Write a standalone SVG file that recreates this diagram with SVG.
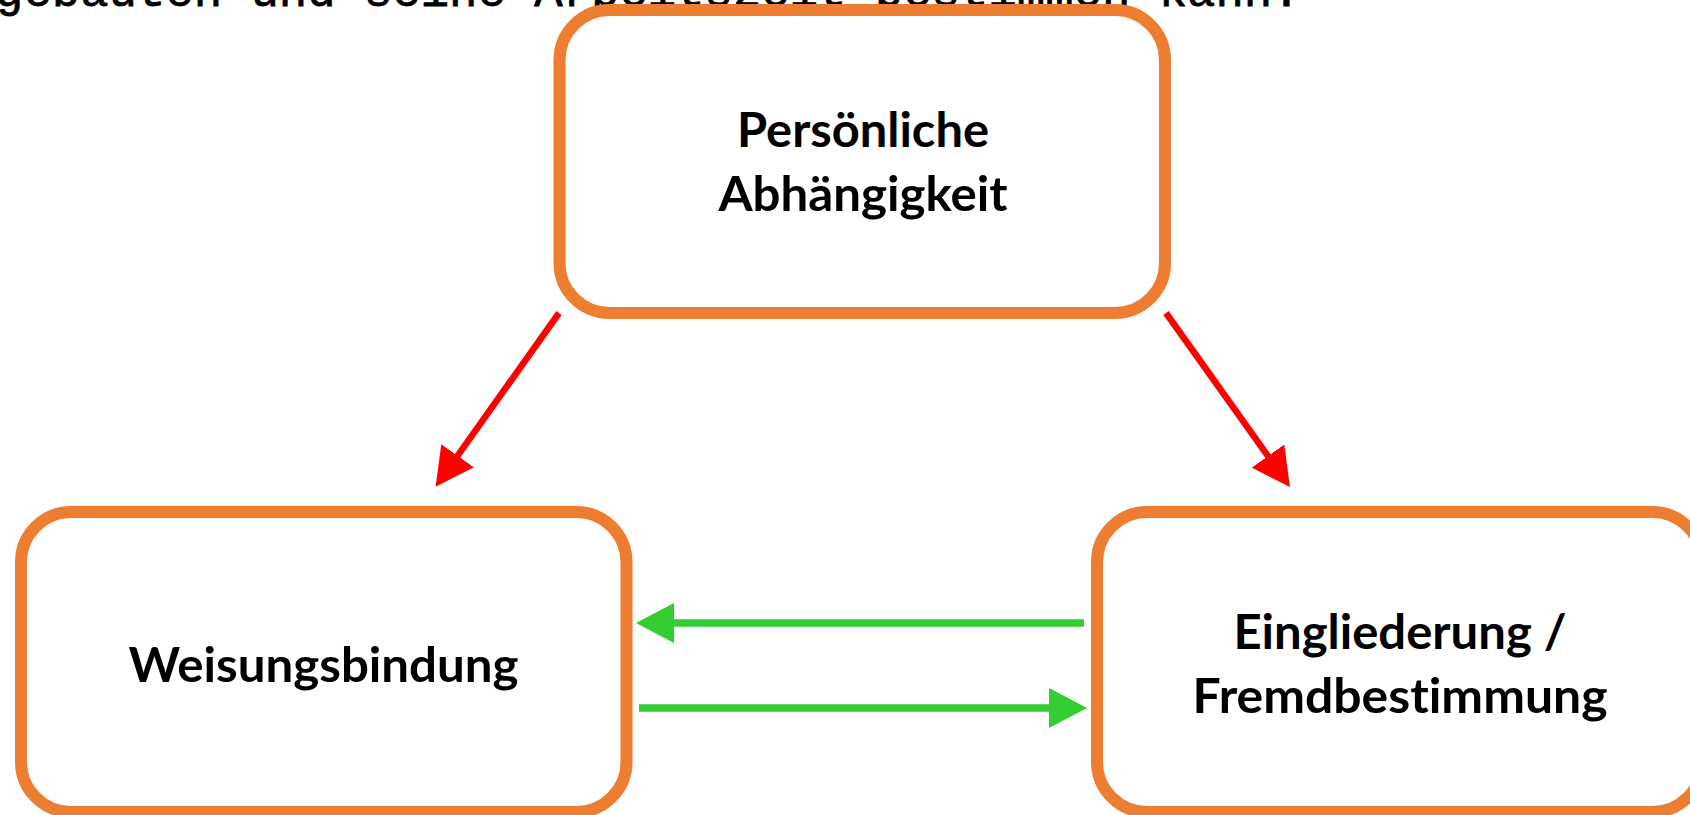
<svg xmlns="http://www.w3.org/2000/svg" width="1690" height="815" viewBox="0 0 1690 815">
<style>
.box{fill:#ffffff;stroke:#ED7D31;stroke-width:12}
.lbl{font-family:Lato,"Open Sans","Liberation Sans",sans-serif;font-weight:bold;font-size:47px;fill:#000;text-anchor:middle;font-variant-ligatures:none}
.red{stroke:#FF0000;stroke-width:6.5;fill:none}
.green{stroke:#33CC33;stroke-width:7.5;fill:none}
.top{font-family:"Liberation Mono","DejaVu Sans Mono",monospace;font-size:47.3px;fill:#000;stroke:#000;stroke-width:0.8}
</style>
<defs>
<marker id="ah-red" markerUnits="userSpaceOnUse" markerWidth="38" markerHeight="40" viewBox="0 0 38 40" refX="2" refY="20" orient="auto"><path d="M0,0 L38,20 L0,40 z" fill="#FF0000"/></marker>
<marker id="ah-green" markerUnits="userSpaceOnUse" markerWidth="38" markerHeight="40" viewBox="0 0 38 40" refX="2" refY="20" orient="auto"><path d="M0,0 L38,20 L0,40 z" fill="#33CC33"/></marker>
</defs>
<rect width="1690" height="815" fill="#ffffff"/>
<text class="top" x="-5" y="6">gebauten und seine Arbeitszeit bestimmen kann.</text>
<g id="node-persoenliche">
<rect class="box" x="559.5" y="10" width="605.5" height="303" rx="50" ry="50"/>
<text class="lbl" x="863" y="147" textLength="252" lengthAdjust="spacingAndGlyphs">Persönliche</text>
<text class="lbl" x="863" y="211" textLength="289" lengthAdjust="spacingAndGlyphs">Abhängigkeit</text>
</g>
<g id="node-weisung">
<rect class="box" x="21" y="512" width="605.5" height="300" rx="50" ry="50"/>
<text class="lbl" x="323.6" y="682" textLength="390" lengthAdjust="spacingAndGlyphs">Weisungsbindung</text>
</g>
<g id="node-eingliederung">
<rect class="box" x="1097" y="512" width="605.5" height="300" rx="50" ry="50"/>
<text class="lbl" x="1400" y="649" textLength="333" lengthAdjust="spacingAndGlyphs">Eingliederung /</text>
<text class="lbl" x="1400" y="713" textLength="415" lengthAdjust="spacingAndGlyphs">Fremdbestimmung</text>
</g>
<g id="connectors">
<line class="red" x1="559" y1="313" x2="456.45" y2="457.35" marker-end="url(#ah-red)"/>
<line class="red" x1="1166" y1="313" x2="1269.1" y2="457.7" marker-end="url(#ah-red)"/>
<line class="green" x1="1084" y1="623" x2="672" y2="623" marker-end="url(#ah-green)"/>
<line class="green" x1="639" y1="708" x2="1051" y2="708" marker-end="url(#ah-green)"/>
</g>
</svg>
